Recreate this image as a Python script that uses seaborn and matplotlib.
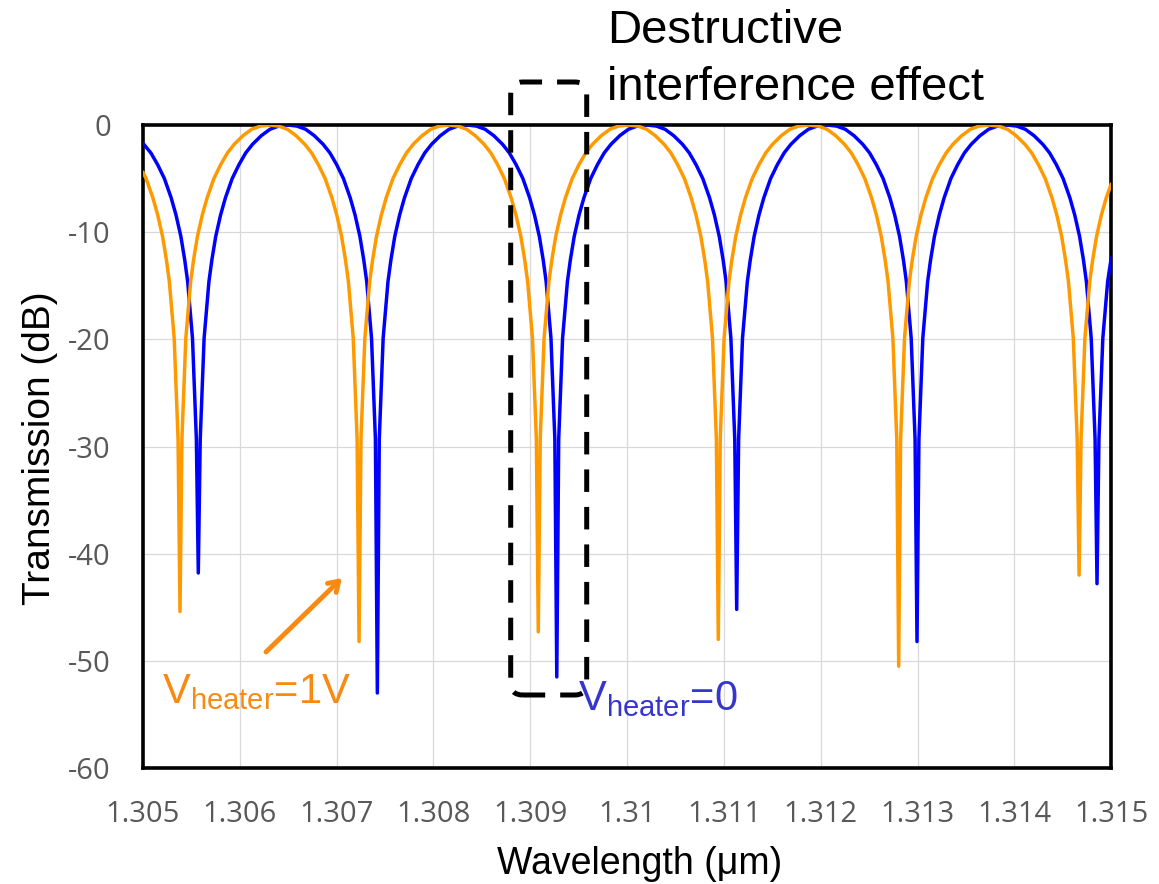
import matplotlib
matplotlib.use("Agg")
import matplotlib.pyplot as plt
import seaborn as sns
import pandas as pd
from matplotlib.patches import FancyBboxPatch

# ---------------- data ----------------
# V_heater = 0 (blue): wavelength (um) and transmission (dB)
wl_blue = [
    1.305000, 1.305082, 1.305152, 1.305222, 1.305292, 1.305342, 1.305392, 1.305432, 1.305462, 1.305512, 1.305552,
    1.305572,
    1.305592, 1.305632, 1.305682, 1.305712, 1.305752, 1.305802, 1.305852, 1.305922, 1.305992, 1.306062, 1.306132, 1.306222, 1.306312, 1.306402,
    1.306497,
    1.306591, 1.306681, 1.306771, 1.306861, 1.306931, 1.307001, 1.307071, 1.307141, 1.307191, 1.307241, 1.307281, 1.307311, 1.307361, 1.307401,
    1.307421,
    1.307441, 1.307481, 1.307531, 1.307561, 1.307601, 1.307651, 1.307701, 1.307771, 1.307841, 1.307911, 1.307981, 1.308071, 1.308161, 1.308251,
    1.308348,
    1.308444, 1.308534, 1.308624, 1.308714, 1.308784, 1.308854, 1.308924, 1.308994, 1.309044, 1.309094, 1.309134, 1.309164, 1.309214, 1.309254,
    1.309274,
    1.309294, 1.309334, 1.309384, 1.309414, 1.309454, 1.309504, 1.309554, 1.309624, 1.309694, 1.309764, 1.309834, 1.309924, 1.310014, 1.310104,
    1.310203,
    1.310302, 1.310392, 1.310482, 1.310572, 1.310642, 1.310712, 1.310782, 1.310852, 1.310902, 1.310952, 1.310992, 1.311022, 1.311072, 1.311112,
    1.311132,
    1.311152, 1.311192, 1.311242, 1.311272, 1.311312, 1.311362, 1.311412, 1.311482, 1.311552, 1.311622, 1.311692, 1.311782, 1.311872, 1.311962,
    1.312063,
    1.312164, 1.312254, 1.312344, 1.312434, 1.312504, 1.312574, 1.312644, 1.312714, 1.312764, 1.312814, 1.312854, 1.312884, 1.312934, 1.312974,
    1.312994,
    1.313014, 1.313054, 1.313104, 1.313134, 1.313174, 1.313224, 1.313274, 1.313344, 1.313414, 1.313484, 1.313554, 1.313644, 1.313734, 1.313824,
    1.313924,
    1.314023, 1.314113, 1.314203, 1.314293, 1.314363, 1.314433, 1.314503, 1.314573, 1.314623, 1.314673, 1.314713, 1.314743, 1.314793, 1.314833,
    1.314853,
    1.314873, 1.314913, 1.314963, 1.315000,
]
tr_blue = [
    -1.7, -2.6, -3.7, -5.0, -6.8, -8.4, -10.4, -12.6, -14.6, -19.9, -29.3,
    -41.8,
    -29.3, -19.9, -14.6, -12.6, -10.4, -8.4, -6.8, -5.0, -3.7, -2.6, -1.8, -1.0, -0.4, -0.1,
    0.0,
    -0.1, -0.4, -1.0, -1.8, -2.6, -3.7, -5.0, -6.8, -8.4, -10.4, -12.6, -14.6, -19.9, -29.3,
    -53.0,
    -29.3, -19.9, -14.6, -12.6, -10.4, -8.4, -6.8, -5.0, -3.7, -2.6, -1.8, -1.0, -0.4, -0.1,
    0.0,
    -0.1, -0.4, -1.0, -1.8, -2.6, -3.7, -5.0, -6.8, -8.4, -10.4, -12.6, -14.6, -19.9, -29.3,
    -51.5,
    -29.3, -19.9, -14.6, -12.6, -10.4, -8.4, -6.8, -5.0, -3.7, -2.6, -1.8, -1.0, -0.4, -0.1,
    0.0,
    -0.1, -0.4, -1.0, -1.8, -2.6, -3.7, -5.0, -6.8, -8.4, -10.4, -12.6, -14.6, -19.9, -29.3,
    -45.2,
    -29.3, -19.9, -14.6, -12.6, -10.4, -8.4, -6.8, -5.0, -3.7, -2.6, -1.8, -1.0, -0.4, -0.1,
    0.0,
    -0.1, -0.4, -1.0, -1.8, -2.6, -3.7, -5.0, -6.8, -8.4, -10.4, -12.6, -14.6, -19.9, -29.3,
    -48.2,
    -29.3, -19.9, -14.6, -12.6, -10.4, -8.4, -6.8, -5.0, -3.7, -2.6, -1.8, -1.0, -0.4, -0.1,
    0.0,
    -0.1, -0.4, -1.0, -1.8, -2.6, -3.7, -5.0, -6.8, -8.4, -10.4, -12.6, -14.6, -19.9, -29.3,
    -42.8,
    -29.3, -19.9, -14.6, -12.4,
]

# V_heater = 1 V (orange)
wl_orange = [
    1.305000, 1.305033, 1.305103, 1.305153, 1.305203, 1.305243, 1.305273, 1.305323, 1.305363,
    1.305383,
    1.305403, 1.305443, 1.305493, 1.305523, 1.305563, 1.305613, 1.305663, 1.305733, 1.305803, 1.305873, 1.305943, 1.306033, 1.306123, 1.306213,
    1.306308,
    1.306402, 1.306492, 1.306582, 1.306672, 1.306742, 1.306812, 1.306882, 1.306952, 1.307002, 1.307052, 1.307092, 1.307122, 1.307172, 1.307212,
    1.307232,
    1.307252, 1.307292, 1.307342, 1.307372, 1.307412, 1.307462, 1.307512, 1.307582, 1.307652, 1.307722, 1.307792, 1.307882, 1.307972, 1.308062,
    1.308158,
    1.308253, 1.308343, 1.308433, 1.308523, 1.308593, 1.308663, 1.308733, 1.308803, 1.308853, 1.308903, 1.308943, 1.308973, 1.309023, 1.309063,
    1.309083,
    1.309103, 1.309143, 1.309193, 1.309223, 1.309263, 1.309313, 1.309363, 1.309433, 1.309503, 1.309573, 1.309643, 1.309733, 1.309823, 1.309913,
    1.310013,
    1.310112, 1.310202, 1.310292, 1.310382, 1.310452, 1.310522, 1.310592, 1.310662, 1.310712, 1.310762, 1.310802, 1.310832, 1.310882, 1.310922,
    1.310942,
    1.310962, 1.311002, 1.311052, 1.311082, 1.311122, 1.311172, 1.311222, 1.311292, 1.311362, 1.311432, 1.311502, 1.311592, 1.311682, 1.311772,
    1.311874,
    1.311975, 1.312065, 1.312155, 1.312245, 1.312315, 1.312385, 1.312455, 1.312525, 1.312575, 1.312625, 1.312665, 1.312695, 1.312745, 1.312785,
    1.312805,
    1.312825, 1.312865, 1.312915, 1.312945, 1.312985, 1.313035, 1.313085, 1.313155, 1.313225, 1.313295, 1.313365, 1.313455, 1.313545, 1.313635,
    1.313737,
    1.313838, 1.313928, 1.314018, 1.314108, 1.314178, 1.314248, 1.314318, 1.314388, 1.314438, 1.314488, 1.314528, 1.314558, 1.314608, 1.314648,
    1.314668,
    1.314688, 1.314728, 1.314778, 1.314808, 1.314848, 1.314898, 1.314948, 1.315000,
]
tr_orange = [
    -4.4, -5.0, -6.8, -8.4, -10.4, -12.6, -14.6, -19.9, -29.3,
    -45.4,
    -29.3, -19.9, -14.6, -12.6, -10.4, -8.4, -6.8, -5.0, -3.7, -2.6, -1.8, -1.0, -0.4, -0.1,
    0.0,
    -0.1, -0.4, -1.0, -1.8, -2.6, -3.7, -5.0, -6.8, -8.4, -10.4, -12.6, -14.6, -19.9, -29.3,
    -48.2,
    -29.3, -19.9, -14.6, -12.6, -10.4, -8.4, -6.8, -5.0, -3.7, -2.6, -1.8, -1.0, -0.4, -0.1,
    0.0,
    -0.1, -0.4, -1.0, -1.8, -2.6, -3.7, -5.0, -6.8, -8.4, -10.4, -12.6, -14.6, -19.9, -29.3,
    -47.3,
    -29.3, -19.9, -14.6, -12.6, -10.4, -8.4, -6.8, -5.0, -3.7, -2.6, -1.8, -1.0, -0.4, -0.1,
    0.0,
    -0.1, -0.4, -1.0, -1.8, -2.6, -3.7, -5.0, -6.8, -8.4, -10.4, -12.6, -14.6, -19.9, -29.3,
    -48.0,
    -29.3, -19.9, -14.6, -12.6, -10.4, -8.4, -6.8, -5.0, -3.7, -2.6, -1.8, -1.0, -0.4, -0.1,
    0.0,
    -0.1, -0.4, -1.0, -1.8, -2.6, -3.7, -5.0, -6.8, -8.4, -10.4, -12.6, -14.6, -19.9, -29.3,
    -50.5,
    -29.3, -19.9, -14.6, -12.6, -10.4, -8.4, -6.8, -5.0, -3.7, -2.6, -1.8, -1.0, -0.4, -0.1,
    0.0,
    -0.1, -0.4, -1.0, -1.8, -2.6, -3.7, -5.0, -6.8, -8.4, -10.4, -12.6, -14.6, -19.9, -29.3,
    -42.0,
    -29.3, -19.9, -14.6, -12.6, -10.4, -8.4, -6.8, -5.5,
]

x_ticks = [1.305, 1.306, 1.307, 1.308, 1.309, 1.310, 1.311, 1.312, 1.313, 1.314, 1.315]
x_tick_labels = ["1.305", "1.306", "1.307", "1.308", "1.309", "1.31",
                 "1.311", "1.312", "1.313", "1.314", "1.315"]
y_ticks = [0, -10, -20, -30, -40, -50, -60]
y_tick_labels = ["0", "-10", "-20", "-30", "-40", "-50", "-60"]

# ---------------- style ----------------
sns.set_style("white")
plt.rcParams["font.family"] = ["Liberation Sans", "DejaVu Sans"]
plt.rcParams["mathtext.fontset"] = "custom"
plt.rcParams["mathtext.rm"] = "Liberation Sans"
plt.rcParams["mathtext.it"] = "Liberation Sans:italic"

BLUE = "#0000FF"
ORANGE = "#FF9900"
ORANGE_TXT = "#F88A12"
BLUE_TXT = "#3636CF"
GRAY = "#595959"

fig = plt.figure(figsize=(11.59, 8.84), dpi=100)
ax = fig.add_axes([0.1233, 0.1312, 0.8355, 0.7274])

df_b = pd.DataFrame({"wl": wl_blue, "T": tr_blue})
df_o = pd.DataFrame({"wl": wl_orange, "T": tr_orange})
sns.lineplot(data=df_b, x="wl", y="T", color=BLUE, linewidth=2.5, ax=ax,
             estimator=None, sort=False, zorder=3)
sns.lineplot(data=df_o, x="wl", y="T", color=ORANGE, linewidth=2.5, ax=ax,
             estimator=None, sort=False, zorder=4)
for ln in ax.get_lines():
    ln.set_solid_joinstyle("round")
    ln.set_solid_capstyle("round")

ax.set_xlim(1.305, 1.315)
ax.set_ylim(-60, 0)
ax.set_xticks(x_ticks)
ax.set_xticklabels(x_tick_labels, fontfamily="Open Sans", fontsize=21, color=GRAY)
ax.set_yticks(y_ticks)
ax.set_yticklabels(y_tick_labels, fontfamily="Open Sans", fontsize=21, color=GRAY)
ax.tick_params(axis="x", length=0, pad=23)
ax.tick_params(axis="y", length=0, pad=23)
ax.grid(True, color="#D9D9D9", linewidth=0.9)
ax.set_axisbelow(True)
for s in ax.spines.values():
    s.set_color("black")
    s.set_linewidth(2.6)
    s.set_visible(True)

ax.set_xlabel("Wavelength (μm)", fontsize=27, color="black")
ax.set_ylabel("Transmission (dB)", fontsize=28, color="black")
ax.xaxis.set_label_coords(0.513, -0.122)
ax.yaxis.set_label_coords(-0.088, 0.498)

W, H = 1159, 884
# annotation text
fig.text(607 / W, 1 - 43 / H, "Destructive", fontsize=34, color="black",
         ha="left", va="baseline")
fig.text(607 / W, 1 - 100 / H, "interference effect", fontsize=34, color="black",
         ha="left", va="baseline")

fig.text(162 / W, 1 - 703 / H, r"V$_{\mathrm{heater}}$=1V", fontsize=30,
         color=ORANGE_TXT, ha="left", va="baseline")
fig.text(578 / W, 1 - 710 / H, r"V$_{\mathrm{heater}}$=0", fontsize=30,
         color=BLUE_TXT, ha="left", va="baseline")

# arrow
ax.annotate("", xy=(342 / W, 1 - 578 / H), xytext=(266 / W, 1 - 652 / H),
            xycoords="figure fraction", textcoords="figure fraction",
            arrowprops=dict(arrowstyle="->,head_length=0.7,head_width=0.45",
                            color=ORANGE_TXT, lw=3.5, shrinkA=0, shrinkB=0),
            annotation_clip=False)

# dashed rounded rectangle (inches in figure space)
box = FancyBboxPatch((5.107, (H - 695) / 100), 0.76, (695 - 82) / 100,
                     boxstyle="round,pad=0,rounding_size=0.12",
                     transform=fig.dpi_scale_trans, fill=False,
                     edgecolor="black", linewidth=3.6,
                     linestyle=(0, (4.5, 3.0)), zorder=10)
fig.add_artist(box)

fig.savefig("out.png", dpi=100)
